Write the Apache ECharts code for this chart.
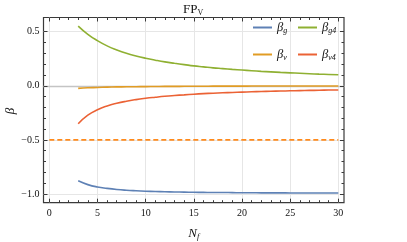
<!DOCTYPE html>
<html>
<head>
<meta charset="utf-8">
<script src="https://cdn.jsdelivr.net/npm/echarts@6/dist/echarts.min.js"></script>
<style>html,body{margin:0;padding:0;background:#fff}#c{width:407px;height:242px}</style>
</head>
<body>
<div id="c"></div>
<script>
const Nf = [3,4,5,6,7,8,9,10,11,12,13,14,15,16,17,18,19,20,21,22,23,24,25,26,27,28,29,30];
const betaG  = [-0.878,-0.913,-0.935,-0.948,-0.958,-0.965,-0.970,-0.974,-0.977,-0.979,-0.981,-0.982,-0.984,-0.985,-0.986,-0.986,-0.987,-0.988,-0.988,-0.989,-0.989,-0.989,-0.990,-0.990,-0.990,-0.991,-0.991,-0.991];
const betaG4 = [0.551,0.475,0.416,0.368,0.331,0.300,0.275,0.254,0.236,0.220,0.207,0.195,0.183,0.174,0.165,0.158,0.151,0.145,0.139,0.133,0.128,0.123,0.119,0.115,0.111,0.107,0.104,0.101];
const betaV  = [-0.024,-0.019,-0.016,-0.013,-0.011,-0.010,-0.009,-0.008,-0.007,-0.006,-0.006,-0.005,-0.005,-0.005,-0.004,-0.004,-0.004,-0.004,-0.003,-0.003,-0.003,-0.003,-0.003,-0.003,-0.002,-0.002,-0.002,-0.002];
const betaV4 = [-0.351,-0.272,-0.222,-0.187,-0.162,-0.143,-0.128,-0.116,-0.106,-0.097,-0.090,-0.084,-0.078,-0.073,-0.069,-0.065,-0.062,-0.059,-0.056,-0.053,-0.051,-0.049,-0.047,-0.045,-0.043,-0.042,-0.040,-0.039];
const refX = [0, 30];
const refY = [-0.5, -0.5];
const xTicks = [0,5,10,15,20,25,30];
const yTicks = [-1.0,-0.5,0.0,0.5];
const legendNames = ['g','g4','v','v4'];

const SERIF = '"Liberation Serif","DejaVu Serif",serif';
const FRAME = '#3a3a3a';
const TXT = '#111';
const colors = {g:'#5E81B5', g4:'#8FB032', v:'#E19C24', v4:'#EB6235'};
const zip = (xs, ys) => xs.map((x,i)=>[x, ys[i]]);

const L = 43.5, R = 344, T = 17.5, B = 202.7;
const x0px = 49.3, x30px = 338.3, y05px = 31.7, ym1px = 194;

const labelFmtY = v => (v < 0 ? '\u2212' : '') + Math.abs(v).toFixed(1);

const richLegend = {
  b: {fontFamily: SERIF, fontStyle: 'italic', fontSize: 12.5, color: TXT},
  s: {fontFamily: SERIF, fontStyle: 'italic', fontSize: 8, color: TXT, padding: [7,0,0,0]}
};

function legendAt(name, left, top) {
  return {
    data: [name], left: left, top: top, icon: 'rect', itemWidth: 19, itemHeight: 2,
    itemGap: 0, padding: 0, selectedMode: false,
    formatter: n => '{b|β}{s|' + n + '}',
    textStyle: {rich: richLegend}
  };
}

const tickCommon = {
  axisLine: {show: false, onZero: false},
  axisTick: {show: true, inside: true, length: 4, lineStyle: {color: FRAME}},
  minorTick: {show: true, splitNumber: 5, length: 2.5, lineStyle: {color: FRAME}}
};

const chart = echarts.init(document.getElementById('c'), null, {renderer: 'canvas'});
chart.setOption({
  animation: false,
  backgroundColor: '#fff',
  grid: [
    {left: x0px, top: T, width: x30px - x0px, height: B - T, outerBoundsMode: 'none', containLabel: false},
    {left: L, top: y05px, width: R - L, height: ym1px - y05px, outerBoundsMode: 'none', containLabel: false},
    {left: L, top: T, width: R - L, height: B - T, outerBoundsMode: 'none', containLabel: false,
     show: true, borderColor: FRAME, borderWidth: 1.2, backgroundColor: 'transparent'}
  ],
  xAxis: [
    Object.assign({gridIndex: 0, type: 'value', position: 'bottom', min: xTicks[0], max: xTicks[xTicks.length-1], interval: 5,
     axisLabel: {show: true, margin: 6, fontFamily: SERIF, fontSize: 10, color: TXT},
     splitLine: {show: true, lineStyle: {color: '#e6e6e6', width: 1}},
     name: '{i|N}{s|f}', nameLocation: 'middle', nameGap: 23,
     nameTextStyle: {rich: {i: {fontFamily: SERIF, fontStyle: 'italic', fontSize: 13, color: TXT},
                            s: {fontFamily: SERIF, fontStyle: 'italic', fontSize: 8.5, color: TXT, padding: [7,0,0,0]}}}
    }, tickCommon),
    Object.assign({gridIndex: 0, type: 'value', position: 'top', min: xTicks[0], max: xTicks[xTicks.length-1], interval: 5,
     axisLabel: {show: false}, splitLine: {show: false}}, tickCommon),
    {gridIndex: 1, type: 'value', min: 0, max: 1,
     axisLine: {show: true, onZero: true, lineStyle: {color: '#c4c4c4', width: 1.3}},
     axisTick: {show: false}, axisLabel: {show: false}, splitLine: {show: false}},
    {gridIndex: 2, type: 'value', show: false, min: 0, max: 1}
  ],
  yAxis: [
    {gridIndex: 0, type: 'value', show: false, min: -1.08, max: 0.63, axisLine: {onZero: false}},
    Object.assign({gridIndex: 1, type: 'value', position: 'left', min: yTicks[0], max: yTicks[yTicks.length-1], interval: 0.5,
     axisLabel: {show: true, margin: 4, fontFamily: SERIF, fontSize: 10, color: TXT, formatter: labelFmtY},
     splitLine: {show: true, lineStyle: {color: '#e6e6e6', width: 1}}
    }, tickCommon),
    Object.assign({gridIndex: 1, type: 'value', position: 'right', min: yTicks[0], max: yTicks[yTicks.length-1], interval: 0.5,
     axisLabel: {show: false}, splitLine: {show: false}}, tickCommon),
    {gridIndex: 2, type: 'value', show: false, min: 0, max: 1}
  ],
  legend: [
    legendAt('g', 253, 21), legendAt('g4', 298, 21),
    legendAt('v', 253, 48), legendAt('v4', 298, 48)
  ],
  graphic: [
    {type: 'text', x: 183, y: 3,
     style: {text: '{a|FP}{b|V}',
             rich: {a: {fontFamily: SERIF, fontSize: 13, fill: TXT},
                    b: {fontFamily: SERIF, fontSize: 8, fill: TXT, padding: [6,0,0,0]}}}},
    {type: 'text', x: 11, y: 111, rotation: Math.PI / 2,
     style: {text: 'β', fontFamily: SERIF, fontStyle: 'italic', fontSize: 13, fill: TXT,
             align: 'center', verticalAlign: 'middle'}}
  ],
  series: [
    {name: 'ref', type: 'line', xAxisIndex: 0, yAxisIndex: 0, data: zip(refX, refY), showSymbol: false, symbol: 'none',
     lineStyle: {color: '#FF8A1C', width: 1.7, type: [5, 3]}, itemStyle: {color: '#FF8A1C'}, z: 3},
    {name: 'g', type: 'line', xAxisIndex: 0, yAxisIndex: 0, data: zip(Nf, betaG), smooth: true, showSymbol: false, symbol: 'none',
     lineStyle: {color: colors.g, width: 1.6}, itemStyle: {color: colors.g}},
    {name: 'g4', type: 'line', xAxisIndex: 0, yAxisIndex: 0, data: zip(Nf, betaG4), smooth: true, showSymbol: false, symbol: 'none',
     lineStyle: {color: colors.g4, width: 1.6}, itemStyle: {color: colors.g4}},
    {name: 'v', type: 'line', xAxisIndex: 0, yAxisIndex: 0, data: zip(Nf, betaV), smooth: true, showSymbol: false, symbol: 'none',
     lineStyle: {color: colors.v, width: 1.6}, itemStyle: {color: colors.v}},
    {name: 'v4', type: 'line', xAxisIndex: 0, yAxisIndex: 0, data: zip(Nf, betaV4), smooth: true, showSymbol: false, symbol: 'none',
     lineStyle: {color: colors.v4, width: 1.6}, itemStyle: {color: colors.v4}}
  ]
});
</script>
</body>
</html>
